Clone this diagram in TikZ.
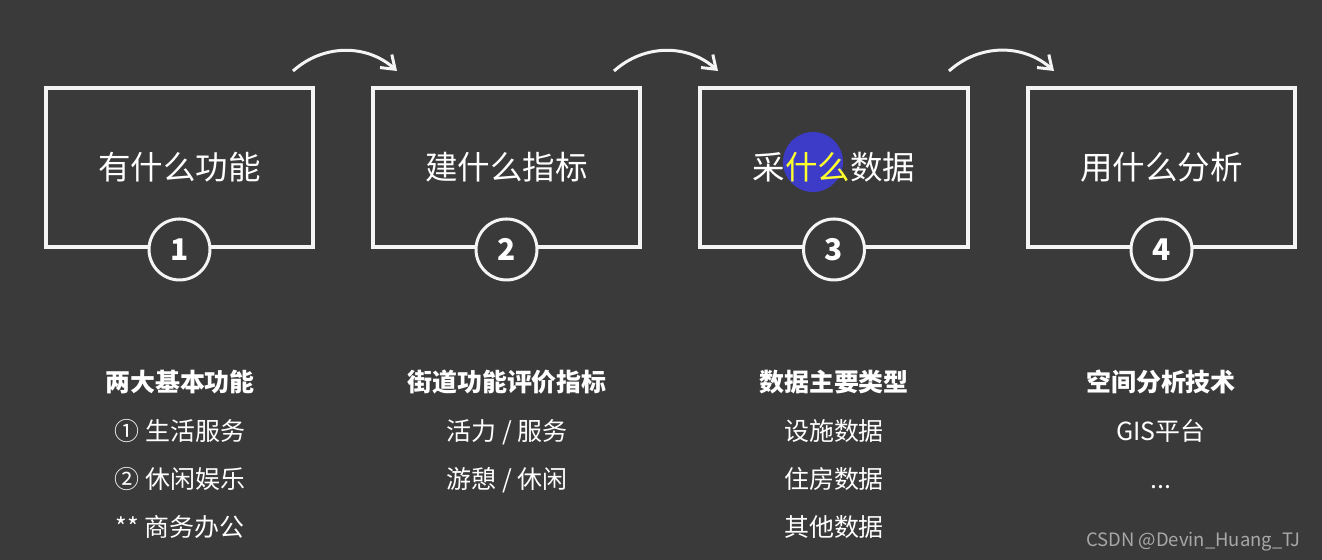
\documentclass[tikz,border=0pt]{standalone}
\usepackage{fontspec}
\setmainfont{Noto Sans CJK SC}
\usetikzlibrary{arrows.meta, positioning}
\definecolor{bgdark}{HTML}{3A3A3A}
\definecolor{lnwhite}{HTML}{F4F4F4}
\definecolor{hlblue}{HTML}{3C3CC8}
\definecolor{hlyellow}{HTML}{FFFF2E}
\definecolor{wmgray}{HTML}{A8A8A8}

\begin{document}
\begin{tikzpicture}[
    x=0.02cm, y=-0.02cm,
    stagebox/.style={draw=lnwhite, line width=0.08cm, minimum width=5.35cm,
                minimum height=3.2cm, text=white, font=\fontsize{18.5}{22}\selectfont},
    numdot/.style={circle, draw=lnwhite, fill=bgdark, line width=0.06cm,
                minimum size=1.22cm, inner sep=0pt, text=white,
                font=\fontsize{17}{20}\selectfont\bfseries},
    flow/.style={lnwhite, line width=0.06cm, -{Straight Barb[length=7pt, width=10pt]}},
    headlbl/.style={text=white, font=\fontsize{14.2}{17}\selectfont\bfseries, anchor=base},
    itemlbl/.style={text=white, font=\fontsize{14.2}{17}\selectfont, anchor=base},
  ]
  \fill[bgdark] (0,0) rectangle (1322,560);
  \useasboundingbox (0,0) rectangle (1322,560);

  % ===== pointer highlight on stage 3 =====
  \fill[hlblue] (813,162) circle (30);

  % ===== four stages =====
  \node[stagebox] (func) at (179.5,167.5) {有什么功能};
  \node[stagebox] (index) at (506.5,167.5) {建什么指标};
  \node[stagebox] (data) at (834,167.5) {采\textcolor{hlyellow}{什么}数据};
  \node[stagebox] (tool) at (1161.5,167.5) {用什么分析};

  \node[numdot] (n1) at (func.south) {1};
  \node[numdot] (n2) at (index.south) {2};
  \node[numdot] (n3) at (data.south) {3};
  \node[numdot] (n4) at (tool.south) {4};

  % ===== curved arrows between stages =====
  \coordinate (s1) at (293,71);  \coordinate (e1) at (397,71);
  \coordinate (s2) at (614,71);  \coordinate (e2) at (718,71);
  \coordinate (s3) at (949,71);  \coordinate (e3) at (1054,71);
  \draw[flow] (s1) to[bend left=42] (e1);
  \draw[flow] (s2) to[bend left=42] (e2);
  \draw[flow] (s3) to[bend left=42] (e3);

  % ===== notes under each stage =====
  \node[headlbl] (h1) at (180,392) {两大基本功能};
  \node[itemlbl] (a1) at (180,440) {① 生活服务};
  \node[itemlbl] (b1) at (180,488) {② 休闲娱乐};
  \node[itemlbl] (c1) at (180,536) {** 商务办公};

  \node[headlbl] (h2) at (507,392) {街道功能评价指标};
  \node[itemlbl] (a2) at (507,440) {活力 / 服务};
  \node[itemlbl] (b2) at (507,488) {游憩 / 休闲};

  \node[headlbl] (h3) at (834,392) {数据主要类型};
  \node[itemlbl] (a3) at (834,440) {设施数据};
  \node[itemlbl] (b3) at (834,488) {住房数据};
  \node[itemlbl] (c3) at (834,536) {其他数据};

  \node[headlbl] (h4) at (1161,392) {空间分析技术};
  \node[itemlbl] (a4) at (1161,440) {GIS平台};
  \node[itemlbl] (b4) at (1161,488) {...};

  % watermark
  \node[text=wmgray, font=\fontsize{10.5}{12}\selectfont, anchor=base east]
    (wm) at (1307,546) {CSDN @Devin\_Huang\_TJ};
\end{tikzpicture}
\end{document}
